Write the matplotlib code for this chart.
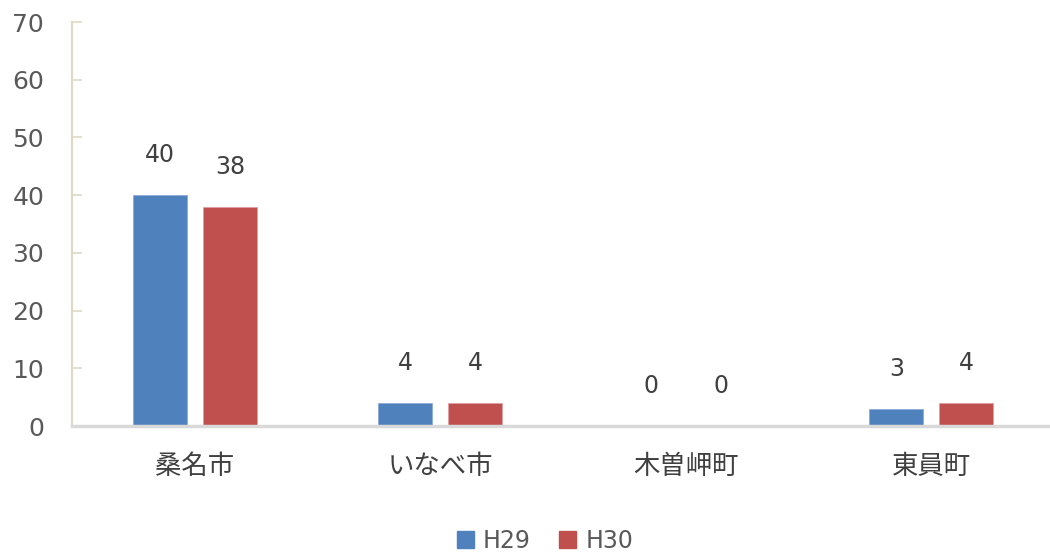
import numpy as np
import matplotlib.pyplot as plt
from matplotlib.patches import Patch

plt.rcParams['font.family'] = ['DejaVu Sans', 'Noto Sans CJK JP']

categories = ['桑名市', 'いなべ市', '木曽岬町', '東員町']
h29 = [40, 4, 0, 3]
h30 = [38, 4, 0, 4]
series_names = ['H29', 'H30']

blue = '#4F81BD'
red = '#C0504D'
txt = '#595959'

fig = plt.figure(figsize=(10.5, 5.55), dpi=100)
ax = fig.add_axes([72/1050, 1-426/555, 976/1050, (426-22)/555])

x = np.arange(len(categories))
w = 0.22
off = 0.143
b1 = ax.bar(x - off, h29, w, color=blue, edgecolor='#8EAADB', linewidth=0.6)
b2 = ax.bar(x + off, h30, w, color=red, edgecolor='#E0A0A0', linewidth=0.6)

for bars, vals in ((b1, h29), (b2, h30)):
    for rect, v in zip(bars, vals):
        ax.annotate(str(v), (rect.get_x() + rect.get_width()/2, v),
                    xytext=(0, 20), textcoords='offset points',
                    ha='center', va='bottom', fontsize=17, color='#404040')

ax.set_xlim(-0.5, 3.475)
ax.set_ylim(0, 70)
ax.set_yticks(range(0, 71, 10))
ax.tick_params(axis='y', direction='in', length=7, width=1.2,
               color='#DDD9C3', labelsize=18, labelcolor=txt, pad=20)
ax.set_xticks(x)
ax.set_xticklabels(categories)
ax.tick_params(axis='x', length=0, labelsize=19, labelcolor='#404040', pad=20)

for s in ('top', 'right'):
    ax.spines[s].set_visible(False)
ax.spines['left'].set_color('#DDD9C3')
ax.spines['left'].set_linewidth(1.5)
ax.spines['bottom'].set_color('#D9D9D9')
ax.spines['bottom'].set_linewidth(2.5)

handles = [Patch(color=blue, label=series_names[0]),
           Patch(color=red, label=series_names[1])]
leg = fig.legend(handles=handles, loc='center', bbox_to_anchor=(545/1050, 1-541/555),
                 ncol=2, frameon=False, fontsize=17, handlelength=0.7, handleheight=0.7,
                 handletextpad=0.4, columnspacing=1.2)
for t in leg.get_texts():
    t.set_color(txt)

fig.savefig('out.png', dpi=100)
